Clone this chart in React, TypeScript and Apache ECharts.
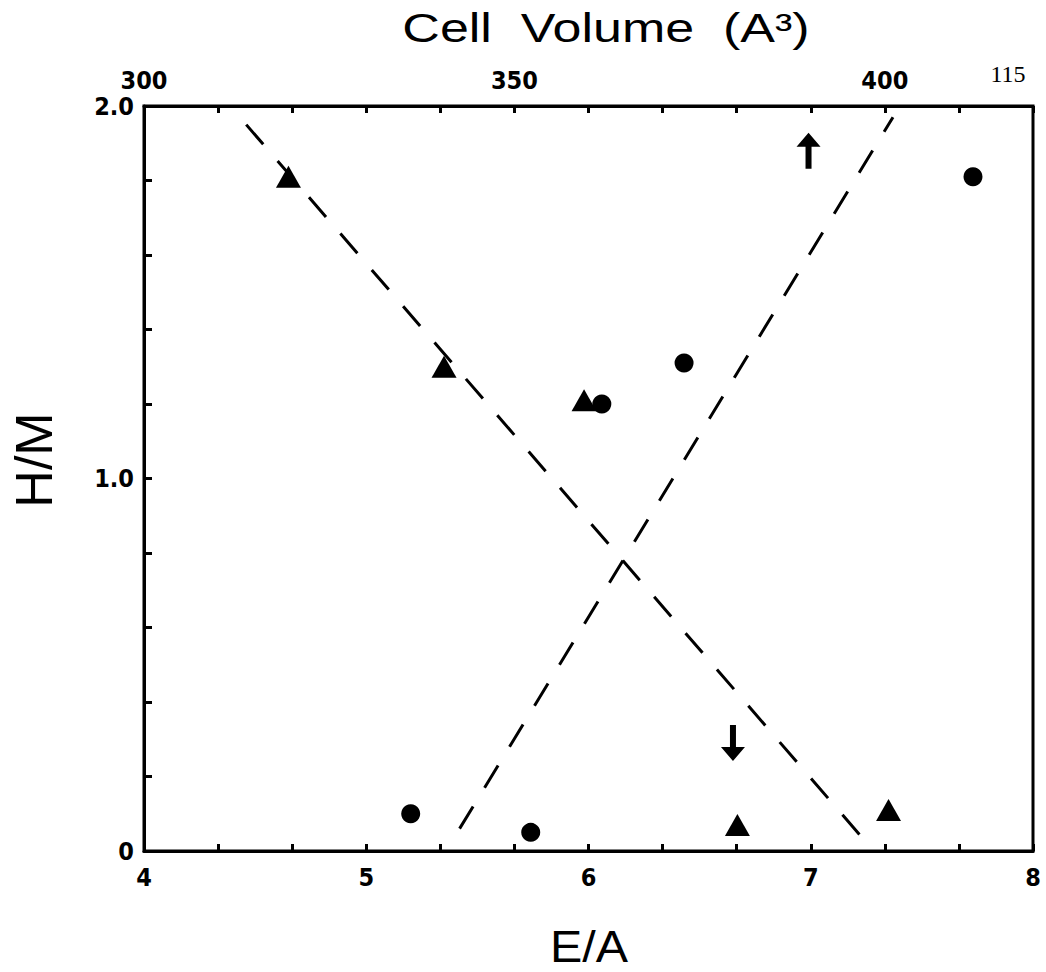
import React, { useEffect, useRef } from "react";
import * as echarts from "echarts";

// E/A (bottom axis) vs H/M (left axis)
const circlePoints: [number, number][] = [
  [5.2, 0.1],
  [5.74, 0.05],
  [6.06, 1.2],
  [6.43, 1.31],
  [7.73, 1.81],
];
const trianglePoints: [number, number][] = [
  [4.65, 1.81],
  [5.35, 1.3],
  [5.98, 1.21],
  [6.67, 0.07],
  [7.35, 0.11],
];
const upArrowPoints: [number, number][] = [[6.99, 1.88]];
const downArrowPoints: [number, number][] = [[6.65, 0.29]];
const decreasingLine: [number, number][] = [
  [4.46, 1.95],
  [7.24, 0.03],
];
const increasingLine: [number, number][] = [
  [5.42, 0.06],
  [7.37, 1.97],
];
const bottomTicks = [4, 5, 6, 7, 8];
const leftTickLabels: Record<string, string> = { "0": "0", "1": "1.0", "2": "2.0" };
const topTickLabels = [300, 350, 400];

const UP_ARROW = "path://M12,0 L24,14 L15,14 L15,36 L9,36 L9,14 L0,14 Z";
const DOWN_ARROW = "path://M9,0 L15,0 L15,22 L24,22 L12,36 L0,22 L9,22 Z";

const tickFont = {
  fontFamily: "'DejaVu Sans Condensed', 'DejaVu Sans', sans-serif",
  fontWeight: "bold" as const,
  fontSize: 25,
  lineHeight: 24,
  color: "#000",
};

export default function App() {
  const ref = useRef<HTMLDivElement>(null);
  useEffect(() => {
    if (!ref.current) return;
    const chart = echarts.init(ref.current, null, { renderer: "svg" });
    const dashed = { color: "#000", width: 3, type: [26, 22] as number[] };
    const mark = { color: "#000", opacity: 1 };
    chart.setOption({
      animation: false,
      backgroundColor: "#fff",
      grid: {
        left: 144,
        right: 13,
        top: 106,
        bottom: 121,
        show: true,
        borderColor: "#000",
        borderWidth: 3,
      },
      xAxis: [
        {
          type: "value",
          position: "bottom",
          min: 4,
          max: 8,
          interval: 1,
          axisLine: { show: true, lineStyle: { color: "#000", width: 3 } },
          axisTick: { show: true, inside: true, length: 7, lineStyle: { color: "#000", width: 3 } },
          minorTick: { show: true, splitNumber: 3, length: 7, lineStyle: { color: "#000", width: 3 } },
          splitLine: { show: false },
          axisLabel: {
            ...tickFont,
            margin: 14,
            formatter: (v: number) => (bottomTicks.includes(Math.round(v)) ? String(Math.round(v)) : ""),
          },
        },
        {
          type: "value",
          position: "top",
          min: 300,
          max: 420,
          interval: 10,
          axisLine: { show: true, lineStyle: { color: "#000", width: 3 } },
          axisTick: { show: true, inside: true, length: 7, lineStyle: { color: "#000", width: 3 } },
          splitLine: { show: false },
          axisLabel: {
            ...tickFont,
            margin: 14,
            formatter: (v: number) => (topTickLabels.includes(Math.round(v)) ? String(Math.round(v)) : ""),
          },
        },
      ],
      yAxis: {
        type: "value",
        min: 0,
        max: 2,
        interval: 0.2,
        axisLine: { show: true, lineStyle: { color: "#000", width: 3 } },
        axisTick: { show: true, inside: true, length: 8, lineStyle: { color: "#000", width: 3 } },
        splitLine: { show: false },
        axisLabel: {
          ...tickFont,
          margin: 10,
          formatter: (v: number) => {
            const key = String(Math.round(v * 1000) / 1000);
            return leftTickLabels[key] ?? "";
          },
        },
      },
      series: [
        {
          type: "line",
          data: decreasingLine,
          symbol: "none",
          lineStyle: dashed,
          silent: true,
        },
        {
          type: "line",
          data: increasingLine,
          symbol: "none",
          lineStyle: dashed,
          silent: true,
        },
        {
          type: "scatter",
          data: circlePoints,
          symbol: "circle",
          symbolSize: 19,
          itemStyle: mark,
        },
        {
          type: "scatter",
          data: trianglePoints,
          symbol: "triangle",
          symbolSize: [25, 22],
          itemStyle: mark,
        },
        {
          type: "scatter",
          data: upArrowPoints,
          symbol: UP_ARROW,
          symbolSize: [24, 36],
          itemStyle: mark,
        },
        {
          type: "scatter",
          data: downArrowPoints,
          symbol: DOWN_ARROW,
          symbolSize: [24, 36],
          itemStyle: mark,
        },
      ],
      graphic: [
        {
          type: "text",
          x: 606,
          y: 28,
          scaleX: 1.3,
          style: {
            text: "Cell  Volume  (A³)",
            font: "40px 'Liberation Sans', Arial, sans-serif",
            fill: "#000",
            align: "center",
            verticalAlign: "middle",
          },
        },
        {
          type: "text",
          x: 589,
          y: 947,
          scaleX: 1.1,
          style: {
            text: "E/A",
            font: "44px 'Liberation Sans', Arial, sans-serif",
            fill: "#000",
            align: "center",
            verticalAlign: "middle",
          },
        },
        {
          type: "text",
          x: 34,
          y: 460,
          rotation: Math.PI / 2,
          style: {
            text: "H/M",
            font: "52px 'Liberation Sans', Arial, sans-serif",
            fill: "#000",
            align: "center",
            verticalAlign: "middle",
          },
        },
        {
          type: "text",
          x: 1008,
          y: 74,
          style: {
            text: "115",
            font: "24px 'Liberation Serif', serif",
            fill: "#000",
            align: "center",
            verticalAlign: "middle",
          },
        },
      ],
    });
    return () => chart.dispose();
  }, []);
  return (
    <div
      ref={ref}
      style={{ position: "fixed", left: 0, top: 0, width: 1046, height: 972, background: "#fff" }}
    />
  );
}
